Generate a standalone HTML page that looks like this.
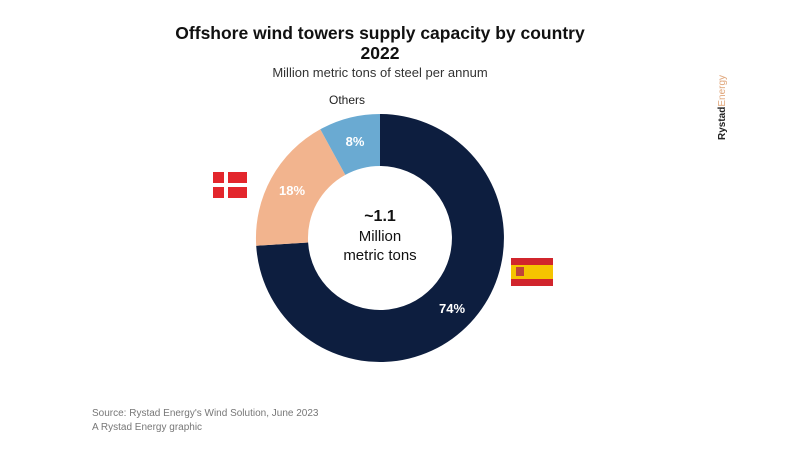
<!DOCTYPE html>
<html><head><meta charset="utf-8"><style>
html,body{margin:0;padding:0;background:#fff;}
body{width:800px;height:450px;overflow:hidden;font-family:"Liberation Sans",sans-serif;}
</style></head><body>
<svg width="800" height="450" viewBox="0 0 800 450" xmlns="http://www.w3.org/2000/svg" font-family="Liberation Sans, sans-serif">
<rect width="800" height="450" fill="#fff"/>
<text x="380" y="39" text-anchor="middle" font-size="17.5" font-weight="bold" fill="#111">Offshore wind towers supply capacity by country</text>
<text x="380" y="59" text-anchor="middle" font-size="17.5" font-weight="bold" fill="#111">2022</text>
<text x="380" y="77" text-anchor="middle" font-size="13" fill="#333">Million metric tons of steel per annum</text>
<g transform="translate(380,238)">
<path d="M0,-124 A124,124 0 1,1 -123.8,7.8 L-71.9,4.5 A72,72 0 1,0 0,-72 Z" fill="#0d1e3f"/>
<path d="M-123.8,7.8 A124,124 0 0,1 -59.7,-108.7 L-34.7,-63.1 A72,72 0 0,0 -71.9,4.5 Z" fill="#f2b48e"/>
<path d="M-59.7,-108.7 A124,124 0 0,1 0,-124 L0,-72 A72,72 0 0,0 -34.7,-63.1 Z" fill="#6aaad2"/>
</g>
<text x="355" y="146" text-anchor="middle" font-size="13" font-weight="bold" fill="#fff">8%</text>
<text x="292" y="195" text-anchor="middle" font-size="13" font-weight="bold" fill="#fff">18%</text>
<text x="452" y="313" text-anchor="middle" font-size="13" font-weight="bold" fill="#fff">74%</text>
<text x="347" y="104" text-anchor="middle" font-size="12" fill="#222">Others</text>
<text x="380" y="221" text-anchor="middle" font-size="16" font-weight="bold" fill="#111">~1.1</text>
<text x="380" y="241" text-anchor="middle" font-size="15" fill="#111">Million</text>
<text x="380" y="260" text-anchor="middle" font-size="15" fill="#111">metric tons</text>
<rect x="213" y="172" width="34" height="26" fill="#e3262c"/>
<rect x="213" y="183" width="34" height="4" fill="#fff"/>
<rect x="224" y="172" width="4" height="26" fill="#fff"/>
<rect x="511" y="258" width="42" height="28" fill="#d1252c"/>
<rect x="511" y="265" width="42" height="14" fill="#f5c400"/>
<rect x="516" y="267" width="8" height="9" fill="#c0443a"/>
<text x="0" y="0" transform="translate(725,140) rotate(-90)" font-size="10" font-weight="bold" fill="#222">Rystad<tspan font-weight="normal" fill="#e0a77c">Energy</tspan></text>
<text x="92" y="416" font-size="10" fill="#777">Source: Rystad Energy's Wind Solution,  June 2023</text>
<text x="92" y="430" font-size="10" fill="#777">A Rystad Energy graphic</text>
</svg>
</body></html>
